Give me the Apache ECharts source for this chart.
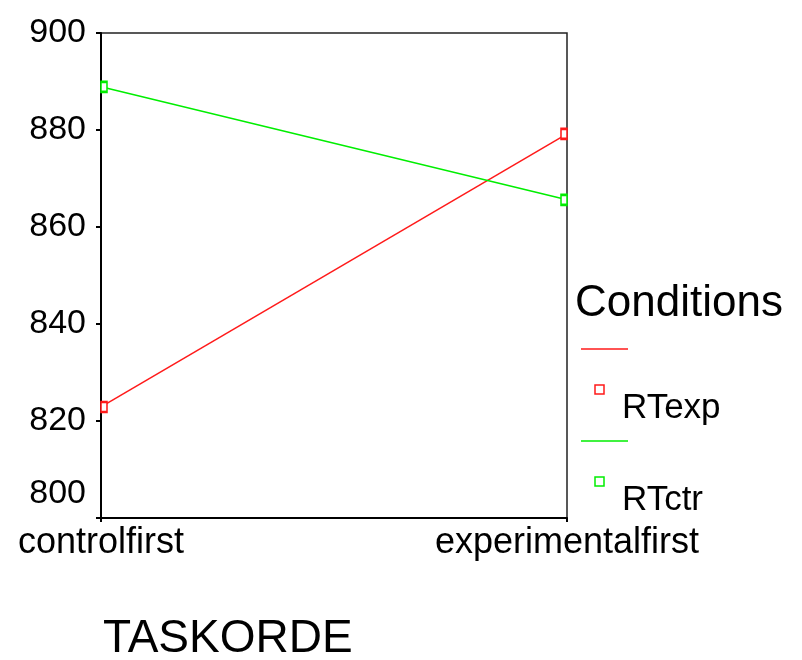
<!DOCTYPE html>
<html>

<head>
    <meta charset="utf-8">
    <script src="https://cdn.jsdelivr.net/npm/echarts@6/dist/echarts.min.js"></script>
    <title>TASKORDE</title>
</head>

<body style="margin:0;background:#fff;">
    <div id="main" style="width:802px;height:660px;"></div>
    <script type="text/javascript">
        var categories = ['controlfirst', 'experimentalfirst'];
        var seriesNames = ['RTexp', 'RTctr'];
        var rtExp = [822.9, 879.2];
        var rtCtr = [888.9, 865.6];
        var seriesColors = ['#ff1a1a', '#00ee00'];
        var yTicks = [800, 820, 840, 860, 880, 900];

        var fontFamily = '"Liberation Sans", Arial, sans-serif';
        var myChart = echarts.init(document.getElementById('main'));

        // squares are clipped by the frame in the original, so shift them inward
        function toPoints(values) {
            return values.map(function (v, i) {
                return {
                    value: v,
                    symbolOffset: [i === 0 ? 3 : -3, 0]
                };
            });
        }

        // legend: line sample on its own row, then square + name below it
        var legendGraphic = [{
            type: 'text',
            left: 575,
            top: 282,
            style: {
                text: 'Conditions',
                font: '44px ' + fontFamily,
                fill: '#000'
            }
        }];
        seriesNames.forEach(function (name, i) {
            var y0 = 349 + i * 92;
            legendGraphic.push({
                type: 'line',
                shape: { x1: 581, y1: y0, x2: 628, y2: y0 },
                style: { stroke: seriesColors[i], lineWidth: 1.5 }
            }, {
                type: 'rect',
                shape: { x: 595, y: y0 + 36, width: 9, height: 9 },
                style: { stroke: seriesColors[i], fill: '#fff', lineWidth: 1.5 }
            }, {
                type: 'text',
                left: 622,
                top: y0 + 42,
                style: {
                    text: name,
                    font: '35px ' + fontFamily,
                    fill: '#000'
                }
            });
        });

        var option = {
            animation: false,
            backgroundColor: '#fff',
            textStyle: { fontFamily: fontFamily },
            title: {
                text: 'TASKORDE',
                left: 98,
                top: 611,
                textStyle: {
                    fontFamily: fontFamily,
                    fontSize: 46,
                    fontWeight: 'normal',
                    color: '#000'
                }
            },
            grid: {
                left: 101,
                right: 235,
                top: 33,
                bottom: 142,
                show: true,
                borderColor: '#222',
                borderWidth: 1.5,
                backgroundColor: '#fff'
            },
            xAxis: {
                type: 'category',
                data: categories,
                boundaryGap: false,
                axisLine: { lineStyle: { color: '#000', width: 2 } },
                axisTick: { length: 4, lineStyle: { color: '#000', width: 2 } },
                axisLabel: {
                    color: '#000',
                    fontSize: 36,
                    margin: 7,
                    fontFamily: fontFamily
                },
                splitLine: { show: false }
            },
            yAxis: {
                type: 'value',
                min: yTicks[0],
                max: yTicks[yTicks.length - 1],
                interval: 20,
                axisLine: { show: true, lineStyle: { color: '#000', width: 2 } },
                axisTick: { show: true, length: 5, lineStyle: { color: '#000', width: 2 } },
                axisLabel: {
                    color: '#000',
                    fontSize: 34,
                    margin: 15,
                    fontFamily: fontFamily,
                    formatter: function (v) {
                        return v === yTicks[0] ? '{low|' + v + '}' : String(v);
                    },
                    rich: {
                        low: {
                            fontSize: 34,
                            fontFamily: fontFamily,
                            color: '#000',
                            padding: [0, 0, 48, 0]
                        }
                    }
                },
                splitLine: { show: false }
            },
            series: [{
                name: seriesNames[0],
                type: 'line',
                data: toPoints(rtExp),
                symbol: 'emptyRect',
                symbolSize: [6, 10],
                lineStyle: { color: seriesColors[0], width: 1.5 },
                itemStyle: { color: seriesColors[0], borderWidth: 1.5 }
            }, {
                name: seriesNames[1],
                type: 'line',
                data: toPoints(rtCtr),
                symbol: 'emptyRect',
                symbolSize: [6, 10],
                lineStyle: { color: seriesColors[1], width: 1.5 },
                itemStyle: { color: seriesColors[1], borderWidth: 1.5 }
            }],
            graphic: legendGraphic
        };

        myChart.setOption(option);
    </script>
</body>

</html>
